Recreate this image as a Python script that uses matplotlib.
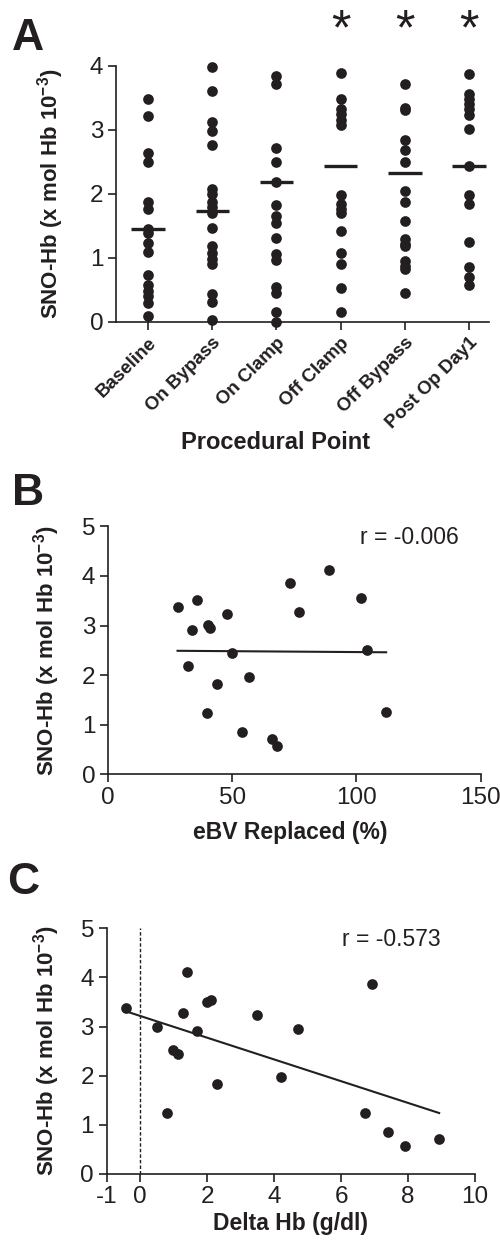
import matplotlib
matplotlib.use('Agg')
import numpy as np
import matplotlib.pyplot as plt

plt.rcParams['font.family'] = ['Liberation Sans', 'DejaVu Sans']
plt.rcParams['mathtext.fontset'] = 'custom'
plt.rcParams['mathtext.rm'] = 'Liberation Sans'
plt.rcParams['mathtext.bf'] = 'Liberation Sans:bold'
plt.rcParams['mathtext.default'] = 'bf'
plt.rcParams['axes.unicode_minus'] = False

K = '#231f20'

# ---- panel A: SNO-Hb at each procedural point
points = ['Baseline', 'On Bypass', 'On Clamp', 'Off Clamp', 'Off Bypass', 'Post Op Day1']
baseline = [3.48, 3.22, 2.64, 2.50, 1.87, 1.77, 1.45, 1.39, 1.23, 1.10, 0.74, 0.58, 0.48, 0.40, 0.30, 0.09]
on_bypass = [3.98, 3.61, 3.13, 2.98, 2.76, 2.08, 2.00, 1.88, 1.80, 1.70, 1.47, 1.18, 1.07, 0.98, 0.90, 0.44, 0.31, 0.03]
on_clamp = [3.84, 3.71, 2.72, 2.50, 2.19, 1.82, 1.66, 1.55, 1.31, 1.06, 0.97, 0.55, 0.46, 0.15, 0.00]
off_clamp = [3.89, 3.48, 3.33, 3.25, 3.16, 3.07, 1.99, 1.84, 1.77, 1.71, 1.42, 1.08, 0.90, 0.53, 0.15]
off_bypass = [3.71, 3.35, 3.31, 2.84, 2.68, 2.50, 2.04, 1.88, 1.57, 1.29, 1.22, 1.18, 0.95, 0.87, 0.82, 0.45]
post_op = [3.88, 3.56, 3.48, 3.40, 3.32, 3.24, 3.01, 2.44, 1.98, 1.84, 1.25, 0.86, 0.71, 0.57]
group_means = [1.45, 1.74, 2.19, 2.44, 2.33, 2.44]
significant = [False, False, False, True, True, True]

# ---- panel B: SNO-Hb vs eBV replaced
ebv = [28.0, 36.0, 33.9, 40.1, 41.2, 47.9, 49.9, 32.2, 43.9, 56.9,
       40.0, 54.1, 66.0, 67.9, 73.1, 77.0, 89.0, 102.0, 104.1, 111.9]
sno_b = [3.37, 3.51, 2.91, 3.01, 2.94, 3.24, 2.44, 2.19, 1.83, 1.97,
         1.24, 0.85, 0.71, 0.57, 3.86, 3.28, 4.11, 3.55, 2.50, 1.25]
fit_b_x = [28.0, 112.0]
fit_b_y = [2.49, 2.46]
r_b = 'r = -0.006'

# ---- panel C: SNO-Hb vs delta Hb
dhb = [-0.42, 0.50, 0.80, 0.98, 1.12, 1.29, 1.41, 1.71, 2.01, 2.11,
       2.29, 3.49, 4.21, 4.73, 6.72, 6.92, 7.41, 7.91, 8.93]
sno_c = [3.37, 3.00, 1.25, 2.52, 2.44, 3.28, 4.11, 2.91, 3.49, 3.54,
         1.83, 3.23, 1.97, 2.94, 1.25, 3.87, 0.86, 0.57, 0.71]
fit_c_x = [-0.42, 8.93]
fit_c_y = [3.31, 1.24]
r_c = 'r = -0.573'

ylab = 'SNO-Hb (x mol Hb 10$^{-3}$)'
FS_TICK = 17.5
FS_YLAB = 16
FS_XLAB = 16.5
FS_R = 16.5

fig = plt.figure(figsize=(5.0, 12.44), dpi=100)

def style(ax):
    for s in ['top', 'right']:
        ax.spines[s].set_visible(False)
    for s in ['left', 'bottom']:
        ax.spines[s].set_linewidth(1.2)
        ax.spines[s].set_color(K)
    ax.tick_params(direction='out', length=6, width=1.2, colors=K, labelsize=FS_TICK, pad=3)

# panel A
axA = fig.add_axes([0.232, 0.7412, 0.746, 0.2058])
groups = [baseline, on_bypass, on_clamp, off_clamp, off_bypass, post_op]
for i, g in enumerate(groups):
    axA.plot([i] * len(g), g, 'o', color=K, ms=7.7, mew=0, clip_on=False, zorder=3)
    axA.plot([i - 0.26, i + 0.26], [group_means[i], group_means[i]], color=K, lw=2.4,
             solid_capstyle='butt', zorder=4)
    if significant[i]:
        axA.text(i, 4.54, '*', ha='center', va='center', fontsize=36, color=K)
axA.set_xlim(-0.5, 5.31)
axA.set_ylim(0, 4)
axA.set_yticks([0, 1, 2, 3, 4])
axA.set_xticks(range(len(points)))
style(axA)
axA.set_xticklabels(points, rotation=45, ha='right', rotation_mode='anchor',
                    fontsize=13.5, fontweight='bold')
axA.set_ylabel(ylab, fontsize=FS_YLAB, fontweight='bold', color=K)
axA.yaxis.set_label_coords(-0.134, 0.5)
axA.set_xlabel('Procedural Point', fontsize=17, fontweight='bold', color=K)
axA.xaxis.set_label_coords(0.429, -0.469)
axA.xaxis.label.set_va('center')

# panel B
axB = fig.add_axes([0.216, 0.3776, 0.745, 0.1993])
axB.plot(ebv, sno_b, 'o', color=K, ms=7.7, mew=0, clip_on=False, zorder=3)
axB.plot(fit_b_x, fit_b_y, color=K, lw=1.5)
axB.text(0.677, 0.955, r_b, transform=axB.transAxes, ha='left', va='center', fontsize=FS_R, color=K)
axB.set_xlim(0, 150)
axB.set_ylim(0, 5)
axB.set_xticks([0, 50, 100, 150])
axB.set_yticks([0, 1, 2, 3, 4, 5])
style(axB)
axB.set_ylabel(ylab, fontsize=FS_YLAB, fontweight='bold', color=K)
axB.yaxis.set_label_coords(-0.124, 0.5)
axB.set_xlabel('eBV Replaced (%)', fontsize=FS_XLAB, fontweight='bold', color=K)
axB.xaxis.set_label_coords(0.49, -0.234)
axB.xaxis.label.set_va('center')

# panel C
axC = fig.add_axes([0.213, 0.0563, 0.737, 0.1975])
axC.plot(dhb, sno_c, 'o', color=K, ms=7.7, mew=0, clip_on=False, zorder=3)
axC.plot(fit_c_x, fit_c_y, color=K, lw=1.5)
axC.axvline(0, color=K, lw=1.0, ls=(0, (2.5, 1.5)))
axC.text(0.64, 0.955, r_c, transform=axC.transAxes, ha='left', va='center', fontsize=FS_R, color=K)
axC.set_xlim(-1, 10)
axC.set_ylim(0, 5)
axC.set_xticks([-1, 0, 2, 4, 6, 8, 10])
axC.set_yticks([0, 1, 2, 3, 4, 5])
style(axC)
axC.set_ylabel(ylab, fontsize=FS_YLAB, fontweight='bold', color=K)
axC.yaxis.set_label_coords(-0.121, 0.5)
axC.set_xlabel('Delta Hb (g/dl)', fontsize=FS_XLAB, fontweight='bold', color=K)
axC.xaxis.set_label_coords(0.5, -0.2)
axC.xaxis.label.set_va('center')

# panel letters
fig.text(0.024, 1 - 50 / 1244, 'A', fontsize=32, fontweight='bold', color=K, va='baseline')
fig.text(0.024, 1 - 505 / 1244, 'B', fontsize=32, fontweight='bold', color=K, va='baseline')
fig.text(0.014, 1 - 894 / 1244, 'C', fontsize=32, fontweight='bold', color=K, va='baseline')

plt.savefig('out.png', dpi=100)
plt.close('all')
